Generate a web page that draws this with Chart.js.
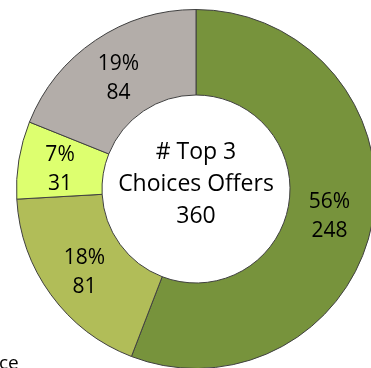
<!DOCTYPE html>
<html>
<head>
<meta charset="utf-8">
<script src="https://cdn.jsdelivr.net/npm/chart.js@4"></script>
<style>
  html, body { margin: 0; padding: 0; background: #fff; overflow: hidden; width: 371px; height: 368px; }
  #wrap { position: absolute; left: 0; top: 0; width: 392px; height: 378px; }
  #legendTail { position: absolute; left: -1px; top: 353px; font-family: "Open Sans", sans-serif; font-size: 19px; line-height: 18px; color: #000; }
</style>
</head>
<body>
<div id="wrap"><canvas id="c"></canvas></div>
<div id="legendTail">ce</div>
<script>
const categories = ["Top choice A", "Top choice B", "Top choice C", "Top choice D"];
const offerCounts = [248, 81, 31, 84];
const percentLabels = ["56%", "18%", "7%", "19%"];
const sliceColors = ["#77933C", "#B1BD58", "#DDFF6F", "#B3ADA9"];
const centerLines = ["# Top 3", "Choices Offers", "360"];

const FONT = '"Open Sans", sans-serif';

const sliceLabels = {
  id: 'sliceLabels',
  afterDatasetsDraw(chart) {
    const ctx = chart.ctx;
    const meta = chart.getDatasetMeta(0);
    ctx.save();
    ctx.fillStyle = '#000';
    ctx.font = '21px ' + FONT;
    ctx.textAlign = 'center';
    ctx.textBaseline = 'middle';
    meta.data.forEach((arc, i) => {
      const p = arc.tooltipPosition();
      ctx.fillText(percentLabels[i], p.x - 1, p.y - 12);
      ctx.fillText(String(offerCounts[i]), p.x - 1, p.y + 17);
    });
    const a = meta.data[0];
    ctx.font = '23px ' + FONT;
    const step = 32;
    centerLines.forEach((t, k) => {
      ctx.fillText(t, a.x, a.y - 5 - step + k * step);
    });
    ctx.restore();
  }
};

new Chart(document.getElementById('c'), {
  type: 'doughnut',
  data: {
    labels: categories,
    datasets: [{
      data: offerCounts,
      backgroundColor: sliceColors,
      borderColor: '#404040',
      borderWidth: 1
    }]
  },
  options: {
    responsive: true,
    maintainAspectRatio: false,
    animation: false,
    cutout: 94,
    layout: { padding: { left: 16, right: 16, top: 9, bottom: 9 } },
    plugins: {
      legend: { display: false },
      tooltip: { enabled: false }
    }
  },
  plugins: [sliceLabels]
});
</script>
</body>
</html>
